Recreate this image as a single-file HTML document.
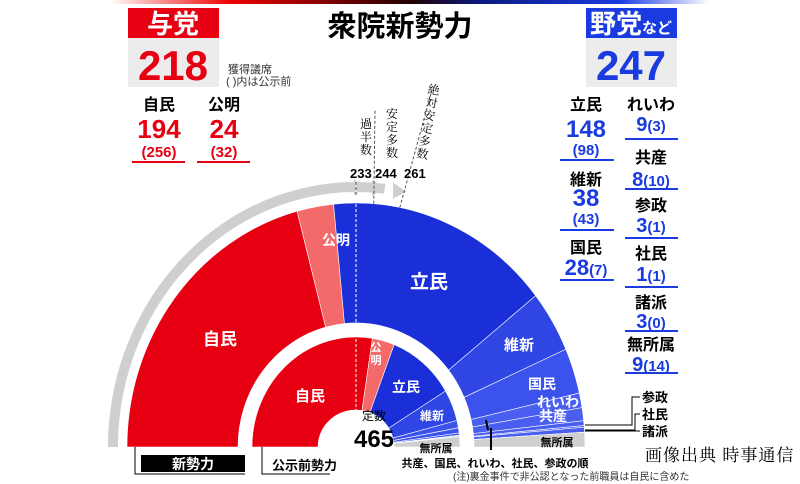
<!DOCTYPE html>
<html><head><meta charset="utf-8"><style>
body{margin:0;background:#fff;}
svg{display:block;font-family:"Liberation Sans","Noto Sans CJK JP",sans-serif;font-weight:bold;}
</style></head><body>
<svg id="s" width="800" height="484" viewBox="0 0 800 484" xmlns="http://www.w3.org/2000/svg">
<defs><linearGradient id="g" x1="0" x2="1"><stop offset="0" stop-color="#fff"/><stop offset="0.2" stop-color="#e00"/><stop offset="0.5" stop-color="#200"/><stop offset="0.62" stop-color="#0a1a80"/><stop offset="0.85" stop-color="#1a3be0"/><stop offset="1" stop-color="#fff"/></linearGradient></defs>
<rect x="110" y="0" width="600" height="4" fill="url(#g)"/>
<g id="w"></g>
<!-- header left -->
<rect x="128" y="8" width="91" height="30" fill="#e60012"/>
<text x="173" y="33" font-size="26" fill="#fff" text-anchor="middle">与党</text>
<rect x="128" y="38" width="91" height="49" fill="#ececec"/>
<text x="173" y="80" font-size="42" fill="#e60012" text-anchor="middle">218</text>
<text x="228" y="73" font-size="11" font-weight="normal" fill="#333">獲得議席</text>
<text x="226" y="85" font-size="11" font-weight="normal" fill="#333">( )内は公示前</text>
<g text-anchor="middle" fill="#e60012">
<text x="159" y="110" font-size="16" fill="#000">自民</text>
<text x="159" y="138" font-size="26">194</text>
<text x="159" y="157" font-size="15">(256)</text>
<text x="224" y="110" font-size="16" fill="#000">公明</text>
<text x="224" y="138" font-size="26">24</text>
<text x="224" y="157" font-size="15">(32)</text>
</g>
<rect x="132" y="161" width="53" height="2" fill="#e60012"/>
<rect x="197" y="161" width="53" height="2" fill="#e60012"/>
<text x="400" y="36" font-size="29" text-anchor="middle" fill="#000">衆院新勢力</text>
<!-- header right -->
<rect x="586" y="8" width="91" height="30" fill="#1a3be0"/>
<text x="590" y="33" font-size="26" fill="#fff">野党<tspan font-size="15">など</tspan></text>
<rect x="586" y="38" width="91" height="49" fill="#ececec"/>
<text x="631" y="80" font-size="42" fill="#1a3be0" text-anchor="middle">247</text>
<g text-anchor="middle" fill="#1a3be0">
<text x="586" y="110" font-size="16" fill="#000">立民</text>
<text x="586" y="137" font-size="24">148</text>
<text x="586" y="155" font-size="15">(98)</text>
<text x="586" y="185" font-size="16" fill="#000">維新</text>
<text x="586" y="206" font-size="24">38</text>
<text x="586" y="224" font-size="15">(43)</text>
<text x="586" y="253" font-size="16" fill="#000">国民</text>
<text x="586" y="275" font-size="22">28<tspan font-size="15">(7)</tspan></text>
<text x="651" y="110" font-size="16" fill="#000">れいわ</text>
<text x="651" y="131" font-size="20">9<tspan font-size="15">(3)</tspan></text>
<text x="651" y="163" font-size="16" fill="#000">共産</text>
<text x="651" y="186" font-size="20">8<tspan font-size="15">(10)</tspan></text>
<text x="651" y="211" font-size="16" fill="#000">参政</text>
<text x="651" y="232" font-size="20">3<tspan font-size="15">(1)</tspan></text>
<text x="651" y="259" font-size="16" fill="#000">社民</text>
<text x="651" y="281" font-size="20">1<tspan font-size="15">(1)</tspan></text>
<text x="651" y="308" font-size="16" fill="#000">諸派</text>
<text x="651" y="328" font-size="20">3<tspan font-size="15">(0)</tspan></text>
<text x="651" y="350" font-size="16" fill="#000">無所属</text>
<text x="651" y="371" font-size="20">9<tspan font-size="15">(14)</tspan></text>
</g>
<g fill="#1a3be0">
<rect x="560" y="159" width="54" height="2"/><rect x="560" y="229" width="54" height="2"/><rect x="560" y="279" width="54" height="2"/>
<rect x="625" y="138" width="53" height="2"/><rect x="625" y="188" width="53" height="2"/><rect x="625" y="237" width="53" height="2"/>
<rect x="625" y="286" width="53" height="2"/><rect x="625" y="330" width="53" height="2"/><rect x="625" y="372" width="53" height="2"/>
</g>
<!-- threshold labels -->
<g font-size="12" font-weight="normal" fill="#000" font-family="'Noto Serif CJK SC',serif">
<text x="366" y="128" text-anchor="middle">過</text><text x="366" y="141" text-anchor="middle">半</text><text x="366" y="154" text-anchor="middle">数</text>
<text x="392" y="118" text-anchor="middle">安</text><text x="392" y="131" text-anchor="middle">定</text><text x="392" y="144" text-anchor="middle">多</text><text x="392" y="157" text-anchor="middle">数</text>
<g transform="translate(433,94) rotate(10)"><text x="0" y="0" text-anchor="middle">絶</text><text x="0" y="13" text-anchor="middle">対</text><text x="0" y="26" text-anchor="middle">安</text><text x="0" y="39" text-anchor="middle">定</text><text x="0" y="52" text-anchor="middle">多</text><text x="0" y="65" text-anchor="middle">数</text></g>
</g>
<g font-size="13" fill="#000">
<text x="350" y="178">233</text><text x="375" y="178">244</text><text x="404" y="178">261</text>
</g>
<!-- center -->
<text x="374" y="420" font-size="12" font-weight="normal" text-anchor="middle">定数</text>
<text x="374" y="447" font-size="24" text-anchor="middle">465</text>
<!-- segment labels -->
<g fill="#fff" font-size="17" text-anchor="middle">
<text x="220" y="345">自民</text>
<text x="336" y="245" font-size="14">公明</text>
<text x="429" y="288" font-size="19">立民</text>
<text x="519" y="350" font-size="15">維新</text>
<text x="542" y="389" font-size="14">国民</text>
<text x="558" y="407" font-size="14">れいわ</text>
<text x="553" y="421" font-size="14">共産</text>
<text x="310" y="401" font-size="15">自民</text>
<text x="376" y="351" font-size="11">公</text><text x="376" y="364" font-size="11">明</text>
<text x="406" y="392" font-size="14">立民</text>
<text x="432" y="420" font-size="12">維新</text>
</g>
<text x="557" y="446" font-size="11" text-anchor="middle">無所属</text>
<text x="436" y="452" font-size="11" text-anchor="middle">無所属</text>
<g font-size="13"><text x="642" y="402">参政</text><text x="642" y="419">社民</text><text x="642" y="436">諸派</text></g>
<path d="M640 397H632V425H585 M640 414H635V430H585 M640 431H585" stroke="#000" fill="none" stroke-width="1"/>
<!-- bottom -->
<path d="M135 447V474H245" stroke="#000" fill="none"/>
<rect x="141" y="455" width="104" height="17" fill="#000"/>
<text x="193" y="469" fill="#fff" font-size="14" text-anchor="middle">新勢力</text>
<path d="M262 447V474H330" stroke="#000" fill="none"/>
<text x="272" y="470" font-size="13">公示前勢力</text>
<path d="M486 420L488 430 M491 428V450" stroke="#000" stroke-width="2"/>
<text x="495" y="467" font-size="11" text-anchor="middle">共産、国民、れいわ、社民、参政の順</text>
<text x="453" y="480" font-size="10" font-weight="normal" fill="#333">(注)裏金事件で非公認となった前職員は自民に含めた</text>
<text x="645" y="461" font-size="17" font-weight="normal" font-family="'Noto Serif CJK SC',serif" letter-spacing="1">画像出典 時事通信</text>
</svg>
<script>
var cx=356,cy=447,N=465,g=document.getElementById('w'),ns='http://www.w3.org/2000/svg';
function pt(rx,ry,s){var t=Math.PI*(1-s/N);return [cx+rx*Math.cos(t),cy-ry*Math.sin(t)];}
function wedge(r0x,r0y,r1x,r1y,s0,s1,col){
 var a=pt(r1x,r1y,s0),b=pt(r1x,r1y,s1),c=pt(r0x,r0y,s1),d=pt(r0x,r0y,s0);
 var p=document.createElementNS(ns,'path');
 p.setAttribute('d','M'+a+'A'+r1x+' '+r1y+' 0 0 1 '+b+'L'+c+'A'+r0x+' '+r0y+' 0 0 0 '+d+'Z');
 p.setAttribute('fill',col);p.setAttribute('stroke','#fff');p.setAttribute('stroke-width','0.6');g.appendChild(p);}
function ring(data,r0x,r0y,r1x,r1y){var s=0;data.forEach(function(d){if(d[0]>0)wedge(r0x,r0y,r1x,r1y,s,s+d[0],d[1]);s+=d[0];});}
var ga=document.createElementNS(ns,'path');var e=pt(243,260,250);
ga.setAttribute('d','M'+(cx-243)+' '+cy+'A243 260 0 0 1 '+e);ga.setAttribute('stroke','#cfcfcf');ga.setAttribute('stroke-width','10');ga.setAttribute('fill','none');g.appendChild(ga);
[233,244,257].forEach(function(s){var p=pt(243,260,s),q=pt(243,260,s+4);var t=document.createElementNS(ns,'path');
 t.setAttribute('d','M'+(p[0]-3)+' '+(p[1]-8)+'L'+(q[0]+4)+' '+(q[1])+'L'+(p[0]-3)+' '+(p[1]+8)+'Z');t.setAttribute('fill','#cfcfcf');g.appendChild(t);});
ring([[194,'#e60012'],[24,'#f26a6a'],[148,'#1a2fd8'],[38,'#2f45e4'],[28,'#3b52ec'],[9,'#4a5ff0'],[8,'#4a5ff0'],[3,'#4a5ff0'],[1,'#4a5ff0'],[3,'#4a5ff0'],[9,'#cfcfcf']],118,124,229,244);
ring([[256,'#e60012'],[32,'#f26a6a'],[98,'#1a2fd8'],[43,'#2f45e4'],[10,'#3b52ec'],[7,'#3b52ec'],[3,'#3b52ec'],[1,'#3b52ec'],[1,'#3b52ec'],[14,'#cfcfcf']],38,37,104,110);
[[233],[244],[261]].forEach(function(d,i){var p=pt(229,244,d[0]);var l=document.createElementNS(ns,'line');
 var x2=[356,375,432][i],y2=[180,110,90][i];var y1=i==0?cy:p[1];var x1=i==0?cx:p[0];
 l.setAttribute('x1',x1);l.setAttribute('y1',y1);l.setAttribute('x2',x2);l.setAttribute('y2',y2);
 l.setAttribute('stroke',i==0?'#fff':'#555');l.setAttribute('stroke-dasharray','3 2');l.setAttribute('stroke-width','1');g.appendChild(l);});
var l2=document.createElementNS(ns,'line');l2.setAttribute('x1',cx);l2.setAttribute('x2',cx);l2.setAttribute('y1',195);l2.setAttribute('y2',180);l2.setAttribute('stroke','#555');l2.setAttribute('stroke-dasharray','3 2');g.appendChild(l2);
</script>
</body></html>
